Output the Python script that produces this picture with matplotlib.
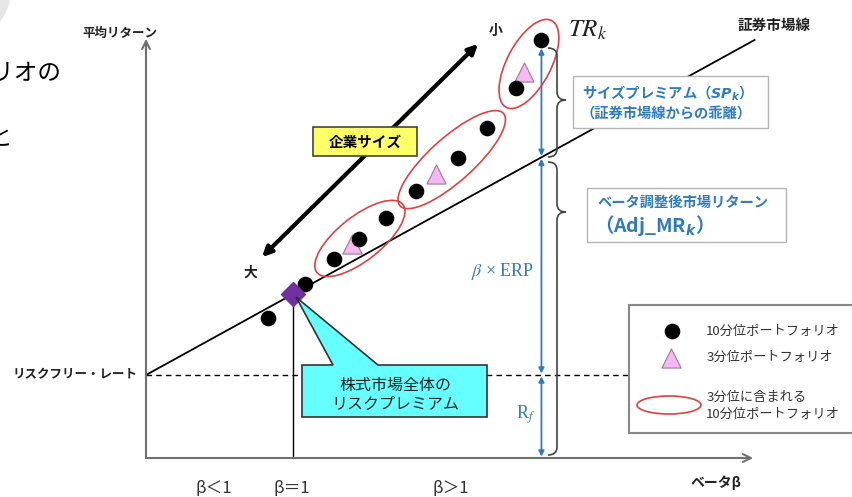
import numpy as np
import matplotlib.pyplot as plt
from matplotlib.patches import Ellipse, Rectangle, Polygon, PathPatch, Circle
from matplotlib.path import Path

plt.rcParams['font.family'] = ['Noto Sans CJK JP', 'DejaVu Sans']

# リスクフリー・レートと市場リスクプレミアム
rf = 2.0
erp = 1.95
market_beta = 1.0
sml_beta_end = 4.14

# 10分位ポートフォリオ（企業規模の大きい順）
decile_beta = [0.83, 1.08, 1.28, 1.45, 1.63, 1.84, 2.12, 2.32, 2.52, 2.69]
decile_ret = [3.37, 4.19, 4.80, 5.28, 5.78, 6.43, 7.23, 7.95, 8.92, 10.07]

# 3分位ポートフォリオと、それぞれに含まれる10分位
tercile_beta = [1.40, 1.97, 2.57]
tercile_ret = [5.16, 6.84, 9.30]
tercile_groups = [[2, 3, 4], [5, 6, 7], [8, 9]]

beta_labels = ['β＜1', 'β＝1', 'β＞1']

W, H = 852, 497
X0, Y0 = 146, 458          # 原点の位置 (px)
PX_BETA, PX_RET = 147, 41.5

BLUE = '#2f7bc0'
RED = '#e04040'
INK = '#222222'

fig = plt.figure(figsize=(W / 100, H / 100), dpi=100)
ax = fig.add_axes([0, 0, 1, 1])
ax.set_xlim(-X0 / PX_BETA, (W - X0) / PX_BETA)
ax.set_ylim((Y0 - H) / PX_RET, Y0 / PX_RET)
ax.axis('off')

lay = fig.add_axes([0, 0, 1, 1])
lay.set_xlim(0, W)
lay.set_ylim(H, 0)
lay.axis('off')


def to_lay(x, y):
    pts = ax.transData.transform(np.column_stack([np.atleast_1d(x), np.atleast_1d(y)]))
    return lay.transData.inverted().transform(pts)


def brace(x, y0, y1, ym, w, r=8, **kw):
    h = w / 2
    verts = [(x, y0), (x + h, y0), (x + h, y0 + r),
             (x + h, ym - r), (x + h, ym), (x + w, ym),
             (x + h, ym), (x + h, ym + r),
             (x + h, y1 - r), (x + h, y1), (x, y1)]
    codes = [Path.MOVETO, Path.CURVE3, Path.CURVE3,
             Path.LINETO, Path.CURVE3, Path.CURVE3,
             Path.CURVE3, Path.CURVE3,
             Path.LINETO, Path.CURVE3, Path.CURVE3]
    lay.add_patch(PathPatch(Path(verts, codes), fill=False, **kw))


# 軸
axis_kw = dict(arrowstyle='->', color='#707070', lw=1.5, mutation_scale=14,
               shrinkA=0, shrinkB=0)
ax.annotate('', xy=(0, 10.1), xytext=(0, 0), arrowprops=axis_kw)
ax.annotate('', xy=(4.13, 0), xytext=(0, 0), arrowprops=axis_kw)

# 証券市場線とリスクフリー・レート
sml_x = np.array([0, sml_beta_end])
ax.plot(sml_x, rf + erp * sml_x, color='black', lw=1.3, zorder=2)
ax.plot([0, 3.3], [rf, rf], color='black', lw=1, ls=(0, (4, 3)), zorder=2)
ax.plot([market_beta, market_beta], [0, rf + erp * market_beta], color='black', lw=1, zorder=2)

# 最小規模ポートフォリオでのリターン分解
bx = decile_beta[-1]
blue_kw = dict(arrowstyle='<|-|>', color=BLUE, lw=1.3, mutation_scale=8,
               shrinkA=1, shrinkB=1)
ax.annotate('', xy=(bx, rf), xytext=(bx, 0), arrowprops=blue_kw)
ax.annotate('', xy=(bx, rf + erp * bx), xytext=(bx, rf), arrowprops=blue_kw)
ax.annotate('', xy=(bx, decile_ret[-1]), xytext=(bx, rf + erp * bx),
            arrowprops=dict(blue_kw, shrinkB=6))

# ポートフォリオ
ax.scatter(tercile_beta, tercile_ret, marker='^', s=190, color='#f5b8f0',
           edgecolor='#9a7a9a', lw=0.8, zorder=3)
ax.scatter(decile_beta, decile_ret, s=105, color='black', zorder=4)
ax.scatter([market_beta], [rf + erp * market_beta], marker='D', s=150,
           color='#7030a0', zorder=5)

# 3分位を囲む楕円
for grp in tercile_groups:
    p = to_lay([decile_beta[i] for i in grp], [decile_ret[i] for i in grp])
    p0, p1 = p[0], p[-1]
    c = (p0 + p1) / 2
    d = p1 - p0
    ang = np.degrees(np.arctan2(d[1], d[0]))
    a = np.hypot(*d) / 2 + 22
    lay.add_patch(Ellipse(c, 2 * a, 44, angle=ang, fill=False, ec=RED, lw=1.2))

# 背景の飾り
lay.add_patch(Circle((-50, -14), 61.6, color='#e6e6e6', lw=0))
lay.text(62, 73, 'ポートフォリオの', ha='right', va='center', fontsize=17, color='black')
lay.text(0, 139, 'と', ha='center', va='center', fontsize=17, color='black')

# 軸ラベル
lay.text(120, 33, '平均リターン', ha='center', va='center', fontsize=9, fontweight='bold', color=INK)
lay.text(138, 375, 'リスクフリー・レート', ha='right', va='center', fontsize=9, fontweight='bold', color=INK)
lay.text(716, 483, 'ベータβ', ha='center', va='center', fontsize=10, fontweight='bold', color=INK)
lay.text(774, 25, '証券市場線', ha='center', va='center', fontsize=10.5, fontweight='bold', color=INK)
for xp, lab in zip([214, 292, 451], beta_labels):
    lay.text(xp, 489, lab, ha='center', va='center', fontsize=12, color='#333333')

# 企業サイズの矢印
lay.annotate('', xy=(262, 257), xytext=(478, 44),
             arrowprops=dict(arrowstyle='<|-|>', color='black', lw=3, mutation_scale=14,
                             shrinkA=0, shrinkB=0))
lay.text(250, 273, '大', ha='center', va='center', fontsize=10, fontweight='bold', color=INK)
lay.text(496, 31, '小', ha='center', va='center', fontsize=10, fontweight='bold', color=INK)
lay.add_patch(Rectangle((313, 127), 104, 29, fc='#ffff66', ec='#444444', lw=1.2, zorder=3))
lay.text(365, 141.5, '企業サイズ', ha='center', va='center', fontsize=10.5,
         fontweight='bold', color='black', zorder=4)

# TRk
lay.text(568, 30, r'$TR_k$', ha='left', va='center', fontsize=18, color=INK,
         math_fontfamily='stix')

# リターンの分解ラベル
lay.text(534, 272, r'$\beta$ × ERP', ha='right', va='center', fontsize=13, color=BLUE,
         family=['Liberation Serif', 'DejaVu Sans'], math_fontfamily='stix')
lay.text(526, 415, r'R$_f$', ha='center', va='center', fontsize=13, color=BLUE,
         family=['Liberation Serif'], math_fontfamily='stix')

brace(548, 48, 157, 100, 18, ec='#444444', lw=1.2)
brace(548, 162, 455, 212, 18, ec='#444444', lw=1.2)

lay.add_patch(Rectangle((573, 76), 195, 52, fc='white', ec='#b5b5b5', lw=1))
lay.text(582, 93, r'サイズプレミアム（$\mathbfit{SP}_{\mathbfit{k}}$）', ha='left', va='center',
         fontsize=10.3, fontweight='bold', color=BLUE, math_fontfamily='dejavusans')
lay.text(580, 114, '（証券市場線からの乖離）', ha='left', va='center',
         fontsize=10.3, fontweight='bold', color=BLUE)

lay.add_patch(Rectangle((587, 188), 199, 54, fc='white', ec='#b5b5b5', lw=1))
lay.text(597, 203, 'ベータ調整後市場リターン', ha='left', va='center',
         fontsize=10.3, fontweight='bold', color=BLUE)
lay.text(594, 225, r'（Adj_MR$_{\mathbfit{k}}$）', ha='left', va='center',
         fontsize=14, fontweight='bold', color=BLUE, math_fontfamily='dejavusans')

# 市場全体のリスクプレミアムの吹き出し
tip = to_lay(market_beta, rf + erp * market_beta)[0] + np.array([3, 3])
callout = [(302, 365), (333, 365), tuple(tip), (378, 365), (487, 365), (487, 417), (302, 417)]
lay.add_patch(Polygon(callout, closed=True, fc='#66ffff', ec='#333333', lw=1.2, zorder=3))
lay.text(395, 385, '株式市場全体の', ha='center', va='center', fontsize=11.5, color=INK, zorder=4)
lay.text(395, 404, 'リスクプレミアム', ha='center', va='center', fontsize=11.5, color=INK, zorder=4)

# 凡例
lay.add_patch(Rectangle((629, 305), 240, 128, fc='white', ec='#888888', lw=1.5, zorder=3))
lay.scatter([672], [331], s=105, color='black', zorder=4)
lay.scatter([671], [358], marker='^', s=190, color='#f5b8f0', edgecolor='#9a7a9a', lw=0.8, zorder=4)
lay.add_patch(Ellipse((669, 405), 64, 18, fill=False, ec=RED, lw=1.2, zorder=4))
leg_kw = dict(ha='left', va='center', fontsize=9.5, color='#333333', zorder=4)
lay.text(706, 331, '10分位ポートフォリオ', **leg_kw)
lay.text(707, 357, '3分位ポートフォリオ', **leg_kw)
lay.text(707, 397, '3分位に含まれる', **leg_kw)
lay.text(706, 414, '10分位ポートフォリオ', **leg_kw)

fig.savefig('out.png', dpi=100)
